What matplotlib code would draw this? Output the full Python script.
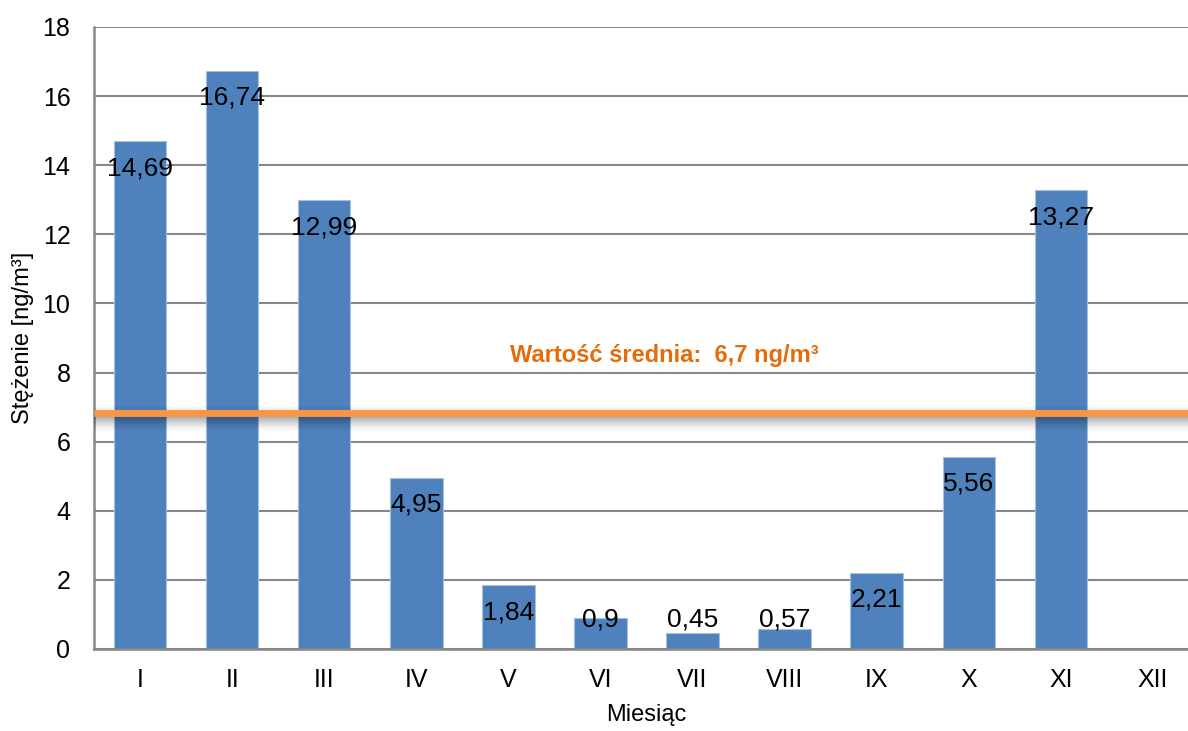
import numpy as np
import matplotlib
matplotlib.use('Agg')
import matplotlib.pyplot as plt

# dane: stężenie miesięczne [ng/m3]
miesiace = ['I', 'II', 'III', 'IV', 'V', 'VI', 'VII', 'VIII', 'IX', 'X', 'XI', 'XII']
stezenie = [14.69, 16.74, 12.99, 4.95, 1.84, 0.9, 0.45, 0.57, 2.21, 5.56, 13.27, np.nan]
etykiety = ['14,69', '16,74', '12,99', '4,95', '1,84', '0,9', '0,45', '0,57', '2,21', '5,56', '13,27', '']
srednia_tekst = '6,7'
poziom_linii = 6.84  # polozenie linii sredniej

plt.rcParams['font.family'] = ['Liberation Sans Narrow', 'Liberation Sans', 'DejaVu Sans']

niebieski = '#4F81BD'
pomarancz = '#F79646'
pomarancz_txt = '#E46C0A'
szary = '#878787'

fig = plt.figure(figsize=(11.88, 7.31), dpi=100)
ax = fig.add_axes([94 / 1188, 82 / 731, 1105 / 1188, 622 / 731])

x = np.arange(len(miesiace))
ax.bar(x, stezenie, width=0.57, color=niebieski, edgecolor='#A7C0E0', linewidth=0.8, zorder=2)

ax.set_xlim(-0.5, 11.5)
ax.set_ylim(0, 18)
ax.set_yticks(np.arange(0, 19, 2))
ax.set_xticks(x)
ax.set_xticklabels(miesiace)
ax.tick_params(axis='y', length=0, pad=17, labelsize=18)
ax.tick_params(axis='x', length=0, pad=14, labelsize=18)
ax.yaxis.grid(True, color=szary, linewidth=1.5, zorder=0)
ax.set_axisbelow(True)

for s in ['top', 'right']:
    ax.spines[s].set_visible(False)
for s in ['left', 'bottom']:
    ax.spines[s].set_color(szary)
    ax.spines[s].set_linewidth(1.8)

ax.set_ylabel('Stężenie [ng/m³]', fontsize=17, labelpad=6)
ax.set_xlabel('Miesiąc', fontsize=17, labelpad=8)

# etykiety wartosci
px = 18 / 622.0
for xi, v, t in zip(x, stezenie, etykiety):
    if not t:
        continue
    y = max(v - 27 * px, 29 * px)
    ax.text(xi, y, t, ha='center', va='center', fontsize=19, color='black', zorder=5)

# cien pod linia sredniej
for i in range(16):
    a = 0.32 * (1 - i / 16.0) ** 1.5
    ax.axhline(poziom_linii - (3.5 + i) * px, color='black', alpha=a, linewidth=0.75, zorder=3)
for i in range(4):
    ax.axhline(poziom_linii + (3.5 + i) * px, color='black', alpha=0.06 * (1 - i / 4.0), linewidth=0.75, zorder=3)

ax.axhline(poziom_linii, color=pomarancz, linewidth=5, zorder=4, solid_capstyle='butt')

ax.text(5.69, 8.3, 'Wartość średnia:  ' + srednia_tekst + ' ng/m³', ha='center', va='baseline',
        fontsize=17, fontweight='bold', color=pomarancz_txt, zorder=5)

fig.savefig('out.png', dpi=100)
